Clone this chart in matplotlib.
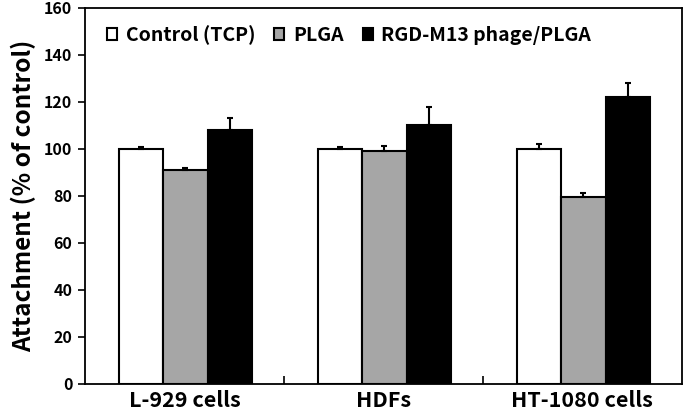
import numpy as np
import matplotlib
matplotlib.use("Agg")
import matplotlib.pyplot as plt

plt.rcParams['font.family'] = ['Noto Sans CJK KR', 'DejaVu Sans']
plt.rcParams['font.weight'] = 'bold'

categories = ["L-929 cells", "HDFs", "HT-1080 cells"]
series = ["Control (TCP)", "PLGA", "RGD-M13 phage/PLGA"]
control = [100, 100, 100]
control_err = [0.8, 0.8, 2.2]
plga = [91, 99, 79.5]
plga_err = [1.0, 2.2, 1.8]
phage = [108, 110, 122]
phage_err = [5.2, 8.0, 6.2]
colors = ["white", "#a6a6a6", "black"]

fig = plt.figure(figsize=(6.85, 4.11), dpi=100)
ax = fig.add_axes([0.124, 0.0657, 0.8715, 0.915])

x = np.arange(len(categories))
w = 0.224
for i, (vals, errs) in enumerate([(control, control_err), (plga, plga_err), (phage, phage_err)]):
    pos = x + (i - 1) * w + 0.005
    ax.bar(pos, vals, w, color=colors[i], edgecolor="black", linewidth=1.5,
           label=series[i], zorder=2)
    ax.errorbar(pos, vals, yerr=[np.zeros(len(errs)), errs], fmt="none",
                ecolor="black", elinewidth=1.5, capsize=2.5, capthick=1.5, zorder=3)

ax.set_xlim(-0.5, 2.5)
ax.set_ylim(0, 160)
ax.set_yticks(range(0, 161, 20))
ax.set_xticks(x)
ax.set_xticklabels(categories, fontsize=15.5, fontweight="bold")
ax.set_xticks([0.5, 1.5], minor=True)
ax.tick_params(axis="x", which="major", length=0, pad=4)
ax.tick_params(axis="x", which="minor", direction="in", length=6, width=1.2)
ax.tick_params(axis="y", direction="out", length=5, width=1.2, labelsize=11.5, pad=4)
for lab in ax.get_yticklabels():
    lab.set_fontweight("bold")
ax.set_ylabel("Attachment (% of control)", fontsize=17.5, fontweight="bold", labelpad=6)
for s in ax.spines.values():
    s.set_linewidth(1.3)

ax.legend(loc="upper left", bbox_to_anchor=(0.037, 0.955), ncol=3, frameon=False,
          prop={"size": 14, "weight": "bold"}, handlelength=0.5, handleheight=0.6,
          handletextpad=0.45, columnspacing=1.0, borderaxespad=0, borderpad=0)

fig.savefig("out.png", dpi=100)
